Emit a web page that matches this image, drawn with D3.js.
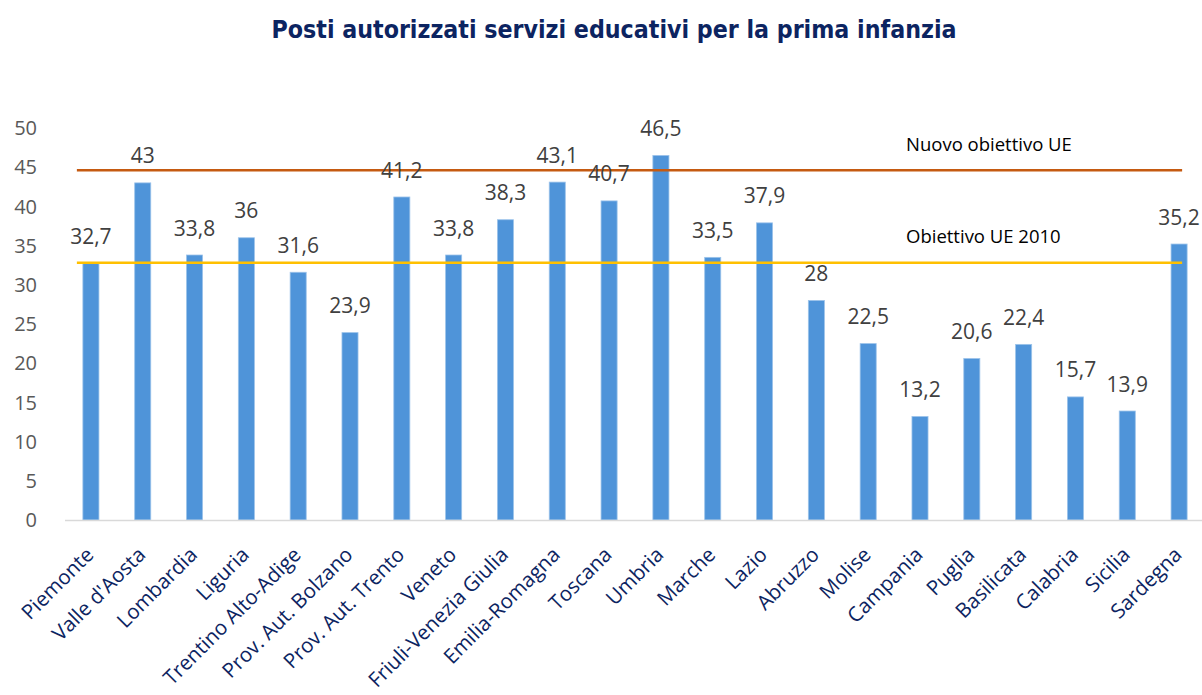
<!DOCTYPE html>
<html>
<head>
<meta charset="utf-8">
<script src="https://cdn.jsdelivr.net/npm/d3@7"></script>
<style>
  body { margin: 0; background: #fff; }
  svg { display: block; }
</style>
</head>
<body>
<div id="chart"></div>
<script>
// dati
const regioni = ['Piemonte', "Valle d'Aosta", 'Lombardia', 'Liguria', 'Trentino Alto-Adige',
    'Prov. Aut. Bolzano', 'Prov. Aut. Trento', 'Veneto', 'Friuli-Venezia Giulia', 'Emilia-Romagna',
    'Toscana', 'Umbria', 'Marche', 'Lazio', 'Abruzzo', 'Molise', 'Campania', 'Puglia',
    'Basilicata', 'Calabria', 'Sicilia', 'Sardegna'];
const posti = [32.7, 43, 33.8, 36, 31.6, 23.9, 41.2, 33.8, 38.3, 43.1, 40.7, 46.5, 33.5, 37.9,
    28, 22.5, 13.2, 20.6, 22.4, 15.7, 13.9, 35.2];
const obiettivi = [
    { nome: 'Nuovo obiettivo UE', valore: 44.6, colore: '#c55a11' },
    { nome: 'Obiettivo UE 2010', valore: 32.8, colore: '#ffc000' }
];
const yTicks = [0, 5, 10, 15, 20, 25, 30, 35, 40, 45, 50];

const W = 1202, H = 695;
const margin = { top: 128, right: -3, bottom: 175, left: 65 };

const svg = d3.select('#chart')
    .append('svg')
    .attr('width', W)
    .attr('height', H);

const x = d3.scaleBand()
    .domain(regioni)
    .range([margin.left, W - margin.right])
    .paddingInner(0.69)
    .paddingOuter(0.345);

const y = d3.scaleLinear()
    .domain([0, 50])
    .range([H - margin.bottom, margin.top]);

const fmt = v => String(v).replace('.', ',');

// titolo
svg.append('text')
    .attr('x', 614)
    .attr('y', 38)
    .attr('text-anchor', 'middle')
    .attr('font-family', '"Liberation Sans Narrow", "DejaVu Sans Condensed", sans-serif')
    .attr('font-weight', 'bold')
    .attr('font-size', 24.7)
    .attr('fill', '#0c2461')
    .text('Posti autorizzati servizi educativi per la prima infanzia');

// asse y (solo etichette)
svg.append('g')
    .selectAll('text')
    .data(yTicks)
    .enter()
    .append('text')
    .attr('x', 37)
    .attr('y', d => y(d))
    .attr('dy', '0.36em')
    .attr('text-anchor', 'end')
    .attr('font-family', '"Open Sans", sans-serif')
    .attr('font-size', 20)
    .attr('fill', '#595959')
    .text(d => d);

// barre
svg.append('g')
    .selectAll('rect')
    .data(posti)
    .enter()
    .append('rect')
    .attr('x', (d, i) => x(regioni[i]))
    .attr('y', d => y(d))
    .attr('width', x.bandwidth())
    .attr('height', d => y(0) - y(d))
    .attr('fill', '#4f94d9')
    .attr('stroke', '#9cc3ea')
    .attr('stroke-width', 0.8);

// asse x
svg.append('line')
    .attr('x1', margin.left)
    .attr('x2', W)
    .attr('y1', y(0) + 0.5)
    .attr('y2', y(0) + 0.5)
    .attr('stroke', '#d9d9d9')
    .attr('stroke-width', 1.5);

// linee obiettivo
const xStart = x(regioni[0]) - 6;
const xEnd = x(regioni[regioni.length - 1]) + x.bandwidth() - 5;
svg.append('g')
    .selectAll('line')
    .data(obiettivi)
    .enter()
    .append('line')
    .attr('x1', xStart)
    .attr('x2', xEnd)
    .attr('y1', d => y(d.valore))
    .attr('y2', d => y(d.valore))
    .attr('stroke', d => d.colore)
    .attr('stroke-width', 2.5);

svg.append('g')
    .selectAll('text')
    .data(obiettivi)
    .enter()
    .append('text')
    .attr('x', 906)
    .attr('y', d => y(d.valore) - 26)
    .attr('dy', '0.35em')
    .attr('font-family', '"Open Sans", sans-serif')
    .attr('font-size', 18.5)
    .attr('fill', '#000')
    .text(d => d.nome);

// etichette valori
svg.append('g')
    .selectAll('text')
    .data(posti)
    .enter()
    .append('text')
    .attr('x', (d, i) => x(regioni[i]) + x.bandwidth() / 2)
    .attr('y', d => y(d) - 27)
    .attr('dy', '0.36em')
    .attr('text-anchor', 'middle')
    .attr('font-family', '"Open Sans", sans-serif')
    .attr('font-size', 21)
    .attr('fill', '#404040')
    .text(d => fmt(d));

// etichette categorie
svg.append('g')
    .selectAll('text')
    .data(regioni)
    .enter()
    .append('text')
    .attr('transform', d => `translate(${x(d) + x.bandwidth() / 2 + 4},${y(0) + 36}) rotate(-45)`)
    .attr('text-anchor', 'end')
    .attr('font-family', '"Open Sans", sans-serif')
    .attr('font-size', 20.5)
    .attr('fill', '#0c2461')
    .text(d => d);
</script>
</body>
</html>
